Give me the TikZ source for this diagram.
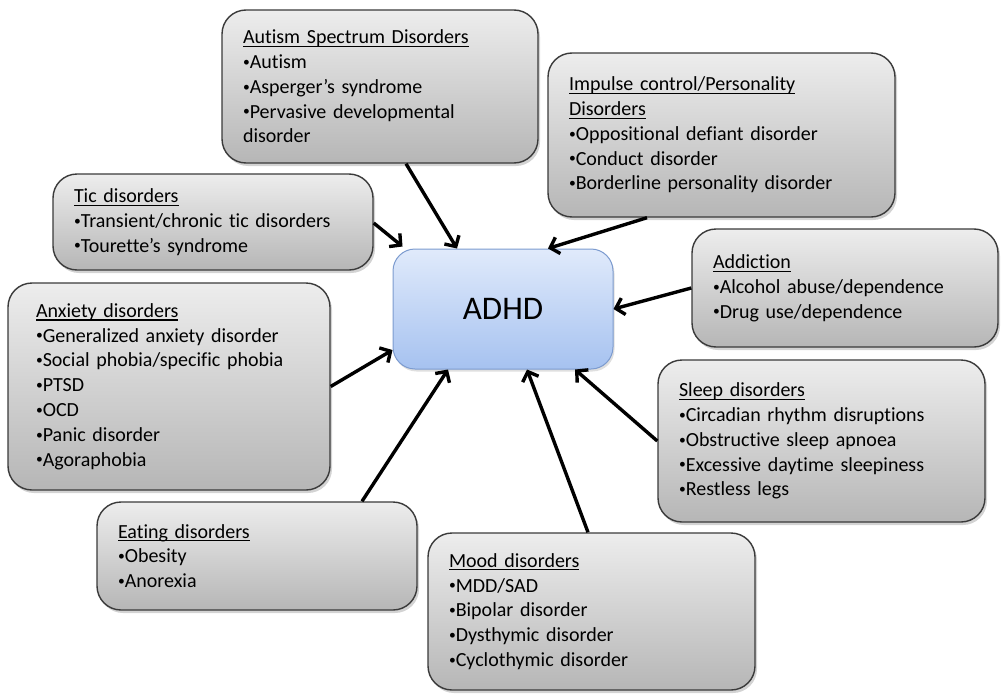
\documentclass[tikz,border=0pt]{standalone}
\usepackage{graphicx}
\usepackage{fontspec}
\setmainfont{Carlito}[Ligatures={NoCommon,NoRequired,NoContextual}]
\usetikzlibrary{arrows.meta,shadows}
\definecolor{gtop}{HTML}{EDEDED}
\definecolor{gbot}{HTML}{B6B6B6}
\definecolor{gline}{HTML}{3A3A3A}
\definecolor{btop}{HTML}{E0EAFB}
\definecolor{bbot}{HTML}{A6C2F0}
\definecolor{bline}{HTML}{7C9BCF}
\newcommand{\hdline}[1]{\leavevmode\setbox0\hbox{#1}\rlap{\rule[-3.2pt]{\wd0}{1.1pt}}\box0}
\newcommand{\bul}{\leavevmode\raisebox{0.11em}{\scalebox{0.68}{•}}}
\tikzset{
  gbox/.style={draw=gline, line width=1.4pt, rounded corners=24pt,
    top color=gtop, bottom color=gbot, align=left, inner xsep=21pt, inner ysep=0pt,
    font=\fontsize{20}{24.8}\selectfont,
    drop shadow={opacity=0.35, shadow xshift=2pt, shadow yshift=-3pt}},
  cbox/.style={draw=bline, line width=1pt, rounded corners=22pt,
    top color=btop, bottom color=bbot, align=center,
    font=\fontsize{33}{38}\selectfont,
    drop shadow={opacity=0.25, shadow xshift=1.5pt, shadow yshift=-2.5pt}},
  link/.style={line width=3.4pt, -{Straight Barb[length=8pt,width=17pt]}}
}
\begin{document}
\begin{tikzpicture}[x=1pt,y=-1pt]
\useasboundingbox (0,0) rectangle (1001,696);

\node[cbox, minimum width=220pt, minimum height=120pt] (adhd) at (503,309) {ADHD};

\node[gbox, minimum width=316pt, minimum height=153pt, text width=274pt] (autism) at (380,86.5)
 {\hdline{Autism Spectrum Disorders}\\\bul Autism\\\bul Asperger’s syndrome\\\bul Pervasive developmental\\disorder};

\node[gbox, minimum width=347pt, minimum height=164pt, text width=305pt] (impulse) at (721.5,135)
 {\hdline{Impulse control/Personality}\\\hdline{Disorders}\\\bul Oppositional defiant disorder\\\bul Conduct disorder\\\bul Borderline personality disorder};

\node[gbox, minimum width=320pt, minimum height=96pt, text width=278pt] (tic) at (213,222)
 {\hdline{Tic disorders}\\\bul Transient/chronic tic disorders\\\bul Tourette’s syndrome};

\node[gbox, minimum width=306pt, minimum height=118pt, text width=264pt] (addiction) at (845,288)
 {\hdline{Addiction}\\\bul Alcohol abuse/dependence\\\bul Drug use/dependence};

\node[gbox, minimum width=322pt, minimum height=207pt, text width=266pt, inner xsep=28pt] (anxiety) at (169,386.5)
 {\hdline{Anxiety disorders}\\\bul Generalized anxiety disorder\\\bul Social phobia/specific phobia\\\bul PTSD\\\bul OCD\\\bul Panic disorder\\\bul Agoraphobia};

\node[gbox, minimum width=327pt, minimum height=162pt, text width=285pt] (sleep) at (821.5,441)
 {\hdline{Sleep disorders}\\\bul Circadian rhythm disruptions\\\bul Obstructive sleep apnoea\\\bul Excessive daytime sleepiness\\\bul Restless legs};

\node[gbox, minimum width=320pt, minimum height=108pt, text width=278pt] (eating) at (257,556)
 {\hdline{Eating disorders}\\\bul Obesity\\\bul Anorexia};

\node[gbox, minimum width=327pt, minimum height=157pt, text width=285pt] (mood) at (591.5,611.5)
 {\hdline{Mood disorders}\\\bul MDD/SAD\\\bul Bipolar disorder\\\bul Dysthymic disorder\\\bul Cyclothymic disorder};

\draw[link] ([xshift=26pt]autism.south) -- ([xshift=-46pt]adhd.north);
\draw[link] ([yshift=-1pt]tic.east) -- ([xshift=10pt,yshift=2pt]adhd.north west);
\draw[link] ([xshift=-74.5pt]impulse.south) -- ([xshift=45pt]adhd.north);
\draw[link] (addiction.west) -- (adhd.east);
\draw[link] (anxiety.east) -- ([yshift=-41pt]adhd.west);
\draw[link] ([xshift=105pt]eating.north) -- ([xshift=-55pt]adhd.south);
\draw[link] ([xshift=-3.5pt]mood.north) -- ([xshift=24pt]adhd.south);
\draw[link] (sleep.west) -- ([xshift=72pt]adhd.south);
\end{tikzpicture}
\end{document}
